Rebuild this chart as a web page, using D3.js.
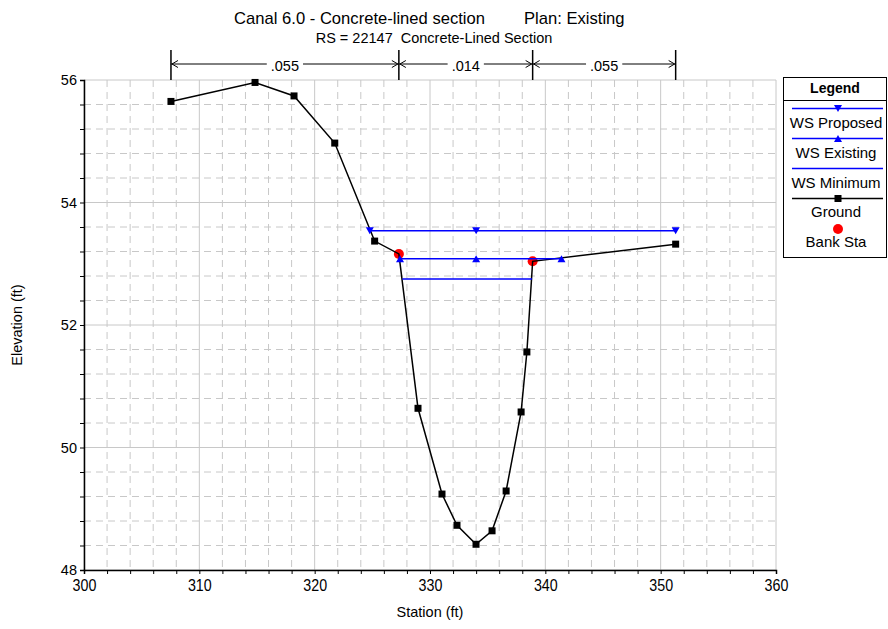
<!DOCTYPE html>
<html>
<head>
<meta charset="utf-8">
<script src="https://cdn.jsdelivr.net/npm/d3@7"></script>
<style>
  body { margin: 0; background: #fff; }
  svg { display: block; font-family: "Liberation Sans", Arial, sans-serif; }
</style>
</head>
<body>
<svg id="chart" width="888" height="629"></svg>
<script>
// ---- data ----
const groundStation = [307.54, 314.83, 318.21, 321.74, 325.2, 327.3, 328.96, 331.04, 332.34, 333.99, 335.38, 336.6, 337.9, 338.4, 338.9, 351.3];
const groundElev    = [55.65, 55.96, 55.74, 54.97, 53.37, 53.16, 50.64, 49.24, 48.73, 48.42, 48.64, 49.29, 50.58, 51.56, 53.04, 53.32];
const bankStation = [327.3, 338.9];
const bankElev    = [53.16, 53.04];
const wsProposedStation = [324.78, 334.0, 351.3];
const wsProposedElev    = [53.54, 53.54, 53.54];
const wsExistingStation = [327.4, 334.0, 341.4];
const wsExistingElev    = [53.08, 53.08, 53.08];
const wsMinimumStation  = [327.6, 338.85];
const wsMinimumElev     = [52.75, 52.75];
const nBreakStations = [307.54, 327.3, 338.9, 351.3];
const nValues = [".055", ".014", ".055"];
const xTicks = [300, 310, 320, 330, 340, 350, 360];
const yTicks = [48, 50, 52, 54, 56];
const legendItems = ["WS Proposed", "WS Existing", "WS Minimum", "Ground", "Bank Sta"];

// ---- layout ----
const svg = d3.select("#chart");
const L = 84, R = 776, T = 80, B = 570;
const x = d3.scaleLinear().domain([300, 360]).range([L, R]);
const y = d3.scaleLinear().domain([48, 56]).range([B, T]);
const gridColor = "#c8c8c8";
const font = "Liberation Sans, Arial, sans-serif";

// minor grid
const xMinor = d3.range(0, 31).map(i => 300 + i * 2).filter(v => v % 10 !== 0);
const yMinor = d3.range(0, 21).map(i => +(48 + i * 0.4).toFixed(2)).filter(v => Math.abs(v / 2 - Math.round(v / 2)) > 1e-6);
const g = svg.append("g");
g.selectAll(".vminor").data(xMinor).join("line")
  .attr("x1", d => x(d)).attr("x2", d => x(d)).attr("y1", T).attr("y2", B)
  .attr("stroke", gridColor).attr("stroke-dasharray", "7,5");
g.selectAll(".hminor").data(yMinor).join("line")
  .attr("x1", L).attr("x2", R).attr("y1", d => y(d)).attr("y2", d => y(d))
  .attr("stroke", gridColor).attr("stroke-dasharray", "7,5");
// major grid
g.selectAll(".vmajor").data(xTicks).join("line")
  .attr("x1", d => x(d)).attr("x2", d => x(d)).attr("y1", T).attr("y2", B)
  .attr("stroke", gridColor);
g.selectAll(".hmajor").data(yTicks).join("line")
  .attr("x1", L).attr("x2", R).attr("y1", d => y(d)).attr("y2", d => y(d))
  .attr("stroke", gridColor);

// axes
const xAxis = d3.axisBottom(x).tickValues(xTicks).tickSize(4).tickPadding(5).tickFormat(d3.format("d"));
const xAxisMinor = d3.axisBottom(x).tickValues(xMinor).tickSize(4).tickFormat("");
const yAxis = d3.axisLeft(y).tickValues(yTicks).tickSize(4).tickPadding(3).tickFormat(d3.format("d"));
const yAxisMinor = d3.axisLeft(y).tickValues(yMinor).tickSize(4).tickFormat("");
function styleAxis(sel, fs) {
  sel.select(".domain").attr("stroke", "#000").attr("stroke-width", 1.5);
  sel.selectAll(".tick line").attr("stroke", "#000");
  sel.selectAll("text").attr("font-family", font).attr("font-size", fs).attr("fill", "#000");
}
svg.append("g").attr("transform", `translate(0,${B})`).call(xAxisMinor).call(s => styleAxis(s, 14)).select(".domain").remove();
svg.append("g").attr("transform", `translate(${L},0)`).call(yAxisMinor).call(s => styleAxis(s, 14)).select(".domain").remove();
svg.append("g").attr("transform", `translate(0,${B})`).call(xAxis).call(s => styleAxis(s, 17))
  .selectAll(".tick text").attr("transform", "scale(0.84,1)");
svg.append("g").attr("transform", `translate(${L},0)`).call(yAxis).call(s => styleAxis(s, 14.5));

// axis titles
svg.append("text").attr("x", (L + R) / 2).attr("y", 617).attr("text-anchor", "middle")
  .attr("font-size", 14.5).attr("font-family", font).text("Station (ft)");
svg.append("text").attr("transform", `translate(22,${(T + B) / 2}) rotate(-90)`).attr("text-anchor", "middle")
  .attr("font-size", 14.5).attr("font-family", font).text("Elevation (ft)");

// titles
svg.append("text").attr("x", 485).attr("y", 24).attr("text-anchor", "end")
  .attr("font-size", 16.6).attr("font-family", font).text("Canal 6.0 - Concrete-lined section");
svg.append("text").attr("x", 524).attr("y", 24).attr("text-anchor", "start")
  .attr("font-size", 16.6).attr("font-family", font).text("Plan: Existing");
svg.append("text").attr("x", 434).attr("y", 43).attr("text-anchor", "middle")
  .attr("font-size", 14.5).attr("font-family", font).attr("xml:space", "preserve").text("RS = 22147  Concrete-Lined Section");

// Manning's n annotation
const nG = svg.append("g");
nG.selectAll(".nline").data(nBreakStations).join("line")
  .attr("x1", d => x(d)).attr("x2", d => x(d)).attr("y1", 50).attr("y2", T)
  .attr("stroke", "#000").attr("stroke-width", 1.5);
const ay = 64;
nValues.forEach((v, i) => {
  const x0 = x(nBreakStations[i]), x1 = x(nBreakStations[i + 1]);
  const cx = (x0 + x1) / 2;
  const t = nG.append("text").attr("x", cx).attr("y", 70.5).attr("text-anchor", "middle")
    .attr("font-size", 14.5).attr("font-family", font).text(v);
  const w = t.node().getComputedTextLength();
  nG.append("line").attr("x1", x0).attr("x2", cx - w / 2 - 4).attr("y1", ay).attr("y2", ay).attr("stroke", "#000");
  nG.append("line").attr("x1", cx + w / 2 + 4).attr("x2", x1).attr("y1", ay).attr("y2", ay).attr("stroke", "#000");
  nG.append("path").attr("d", `M${x0 + 7},${ay - 3.5}L${x0 + 1},${ay}L${x0 + 7},${ay + 3.5}`).attr("fill", "none").attr("stroke", "#000");
  nG.append("path").attr("d", `M${x1 - 7},${ay - 3.5}L${x1 - 1},${ay}L${x1 - 7},${ay + 3.5}`).attr("fill", "none").attr("stroke", "#000");
});

// series
const line = d3.line().x(d => x(d[0])).y(d => y(d[1]));
const zip = (a, b) => a.map((v, i) => [v, b[i]]);
const tri = (cx, cy, down) => down
  ? `M${cx - 4},${cy - 3.5}L${cx + 4},${cy - 3.5}L${cx},${cy + 3.5}Z`
  : `M${cx - 4},${cy + 3.5}L${cx + 4},${cy + 3.5}L${cx},${cy - 3.5}Z`;

// bank
svg.selectAll(".bank").data(zip(bankStation, bankElev)).join("circle")
  .attr("cx", d => x(d[0])).attr("cy", d => y(d[1])).attr("r", 5).attr("fill", "#ff0000");

// ground
const ground = zip(groundStation, groundElev);
svg.append("path").datum(ground).attr("d", line).attr("fill", "none").attr("stroke", "#000").attr("stroke-width", 1.5);
svg.selectAll(".gpt").data(ground.filter((d, i) => !bankStation.includes(d[0]))).join("rect")
  .attr("x", d => x(d[0]) - 3.5).attr("y", d => y(d[1]) - 3.5).attr("width", 7).attr("height", 7).attr("fill", "#000");

// WS lines
const blue = "#0000ff";
const wsMin = zip(wsMinimumStation, wsMinimumElev);
svg.append("path").datum(wsMin).attr("d", line).attr("fill", "none").attr("stroke", blue).attr("stroke-width", 1.5);
const wsEx = zip(wsExistingStation, wsExistingElev);
svg.append("path").datum(wsEx).attr("d", line).attr("fill", "none").attr("stroke", blue).attr("stroke-width", 1.5);
svg.selectAll(".wex").data(wsEx).join("path").attr("d", d => tri(x(d[0]), y(d[1]), false)).attr("fill", blue);
const wsPr = zip(wsProposedStation, wsProposedElev);
svg.append("path").datum(wsPr).attr("d", line).attr("fill", "none").attr("stroke", blue).attr("stroke-width", 1.5);
svg.selectAll(".wpr").data(wsPr).join("path").attr("d", d => tri(x(d[0]), y(d[1]), true)).attr("fill", blue);

// legend
const lg = svg.append("g");
lg.append("rect").attr("x", 783.5).attr("y", 77.5).attr("width", 103).attr("height", 180)
  .attr("fill", "#fff").attr("stroke", "#000").attr("stroke-width", 1);
lg.append("text").attr("x", 835).attr("y", 93).attr("text-anchor", "middle").attr("font-weight", "bold")
  .attr("font-size", 14).attr("font-family", font).text("Legend");
lg.append("line").attr("x1", 783.5).attr("x2", 886.5).attr("y1", 100.5).attr("y2", 100.5).attr("stroke", "#000");
const lx0 = 792, lx1 = 883, lcx = 838;
const rowY = [108.5, 138.5, 168.5, 198.5, 229];
const textY = [128, 158, 188, 217, 247];
legendItems.forEach((name, i) => {
  const yy = rowY[i];
  if (i < 3) {
    lg.append("line").attr("x1", lx0).attr("x2", lx1).attr("y1", yy).attr("y2", yy).attr("stroke", blue).attr("stroke-width", 1.5);
    if (i < 2) lg.append("path").attr("d", tri(lcx, yy, i === 0)).attr("fill", blue);
  } else if (i === 3) {
    lg.append("line").attr("x1", lx0).attr("x2", lx1).attr("y1", yy).attr("y2", yy).attr("stroke", "#000").attr("stroke-width", 1.5);
    lg.append("rect").attr("x", lcx - 3.5).attr("y", yy - 3.5).attr("width", 7).attr("height", 7).attr("fill", "#000");
  } else {
    lg.append("circle").attr("cx", lcx).attr("cy", yy).attr("r", 5).attr("fill", "#ff0000");
  }
  lg.append("text").attr("x", 836).attr("y", textY[i]).attr("text-anchor", "middle")
    .attr("font-size", 15).attr("font-family", font).text(name);
});
</script>
</body>
</html>
